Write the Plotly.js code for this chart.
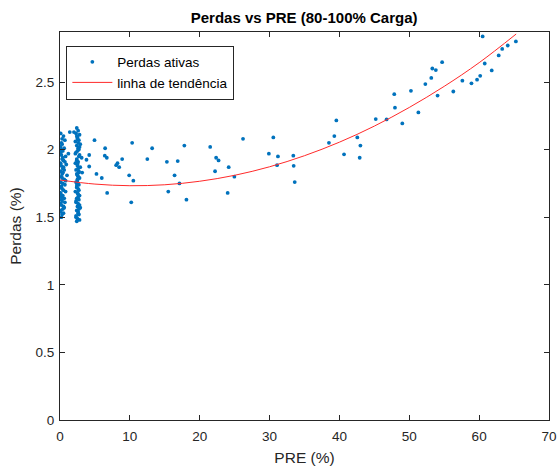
<!DOCTYPE html>
<html>
<head>
<meta charset="utf-8">
<script src="https://cdn.plot.ly/plotly-3.0.1.min.js"></script>
<style>html,body{margin:0;padding:0;background:#fff;}#chart{width:558px;height:466px;}</style>
</head>
<body>
<div id="chart"></div>
<script>
// Dense cluster near PRE = 0 (left column)
const clusterLeftX = [0.1,0.3,0.2,0.5,0.1,0.4,0.7,0.2,0.3,0.6,0.1,0.8,0.2,0.4,0.5,0.1,0.3,0.9,0.2,0.6,0.4,0.1,0.7,0.3,0.2,0.5,1.0,0.1,0.4,0.2,0.6,0.3,0.8,0.1,0.5,0.2,0.4,0.7,0.1,0.3,0.6,0.2,1.2,0.4,0.1,0.5,0.3,0.2,0.8,0.1,0.6,0.4,0.2,0.3,1.4,0.1,0.5,0.7,0.2,0.4];
const clusterLeftY = [2.12,2.08,2.05,2.10,2.02,1.99,2.07,1.96,1.93,2.01,1.90,1.95,1.88,1.86,1.92,1.84,1.82,1.89,1.80,1.78,1.83,1.76,1.74,1.79,1.72,1.70,1.81,1.68,1.66,1.73,1.64,1.62,1.69,1.60,1.58,1.65,1.56,1.61,1.54,1.52,1.57,1.50,1.97,1.75,1.98,1.87,1.71,1.63,1.77,1.55,1.85,1.94,1.59,2.04,2.13,1.67,1.53,1.91,2.00,1.83];
// Dense cluster near PRE = 2.5 (right column)
const clusterRightX = [2.4,2.6,2.3,2.8,2.5,2.7,2.2,2.9,2.4,2.6,2.5,2.3,2.8,2.7,2.4,2.6,2.2,2.5,2.9,2.3,2.7,2.4,2.6,2.8,2.5,2.3,2.7,2.4,2.6,2.2,2.5,2.8,2.4,2.7,2.3,2.6,2.5,2.9,2.4,2.6,2.7,2.3,2.5,2.8,2.4,2.6,2.2,2.5,2.7,2.4,2.6,2.8,2.3,2.5,2.7,2.4,2.6,3.1,2.5,2.7,2.3,2.6,2.4,2.8,2.5,2.0,2.6,2.4,2.7,2.5];
const clusterRightY = [2.16,2.14,2.12,2.11,2.09,2.07,2.06,2.04,2.03,2.01,1.99,1.98,1.96,1.95,1.93,1.91,1.90,1.88,1.87,1.85,1.84,1.82,1.80,1.79,1.77,1.76,1.74,1.72,1.71,1.69,1.68,1.66,1.64,1.63,1.61,1.60,1.58,1.57,1.55,1.53,1.52,1.50,1.49,1.48,2.10,2.05,1.97,1.89,1.83,1.75,1.67,1.59,1.51,2.08,2.00,1.92,1.86,1.94,1.78,1.70,1.62,1.54,1.47,2.02,1.81,2.13,1.65,1.73,1.56,1.90];
// Scattered points
const spreadX = [4.94,10.33,6.46,13.19,4.18,6.41,6.7,8.9,12.5,15.3,8.23,8.04,8.47,3.79,4.18,3.17,5.22,5.98,9.9,10.5,6.75,15.5,10.2,
  26.2,17.8,21.5,16.85,22.35,22.7,24.15,22.2,16.4,17.1,24.96,24.0,18.1,
  39.56,30.54,39.27,38.5,42.56,43.0,29.9,31.2,33.4,40.66,42.9,31.07,33.45,33.6,
  54.7,53.3,53.8,53.15,52.3,50.24,47.85,54.05,56.3,47.95,51.3,45.2,46.75,49.0,
  60.5,65.26,64.1,63.3,62.8,60.8,61.8,60.15,59.7,58.9,57.6];
const spreadY = [2.07,2.05,2.01,2.01,1.96,1.955,1.94,1.93,1.93,1.91,1.90,1.885,1.87,1.925,1.875,1.83,1.82,1.79,1.81,1.77,1.68,1.69,1.61,
  2.08,2.03,2.02,1.915,1.94,1.92,1.87,1.84,1.81,1.75,1.80,1.68,1.63,
  2.216,2.09,2.10,2.05,2.09,2.03,1.97,1.95,1.955,1.965,1.94,1.885,1.88,1.76,
  2.647,2.60,2.588,2.53,2.485,2.435,2.41,2.40,2.43,2.31,2.275,2.226,2.223,2.194,
  2.837,2.80,2.77,2.745,2.697,2.637,2.586,2.546,2.517,2.49,2.51];
// Trend line values
const trendX = [0,5,10,15,20,25,30,35,40,45,50,55,60,65.3];
const trendY = [1.775,1.745,1.733,1.740,1.766,1.810,1.873,1.955,2.055,2.174,2.312,2.468,2.643,2.855];

const xTicks = [0,10,20,30,40,50,60,70];
const yTicks = [0,0.5,1,1.5,2,2.5];

const allX = clusterLeftX.concat(clusterRightX, spreadX);
const allY = clusterLeftY.concat(clusterRightY, spreadY);

const axisColor = '#262626';
const fontFam = 'Liberation Sans, Arial, sans-serif';
const traces = [
  {x: allX, y: allY, type: 'scatter', mode: 'markers', name: 'Perdas ativas',
   marker: {color: '#0072BD', size: 3.8}},
  {x: trendX, y: trendY, type: 'scatter', mode: 'lines', name: 'linha de tendência',
   line: {color: '#FF2A2A', width: 1, shape: 'spline'}}
];
const axisCommon = {
  showgrid: false, zeroline: false, showline: true, mirror: 'ticks',
  linecolor: axisColor, linewidth: 1, ticks: 'inside', ticklen: 5, tickcolor: axisColor,
  tickfont: {family: fontFam, size: 13.5, color: axisColor}
};
const layout = {
  width: 558, height: 466,
  margin: {l: 60, r: 9, t: 32, b: 46},
  paper_bgcolor: '#fff', plot_bgcolor: '#fff',
  showlegend: true,
  title: {text: '<b>Perdas vs PRE (80-100% Carga)</b>', x: 0.545, xref: 'container', xanchor: 'center',
          y: 0.962, yref: 'container', yanchor: 'middle',
          font: {family: fontFam, size: 15, color: '#000'}},
  xaxis: Object.assign({}, axisCommon, {range: [0, 70], tickvals: xTicks, ticklabelstandoff: 4,
    title: {text: 'PRE (%)', standoff: 8, font: {family: fontFam, size: 15.5, color: axisColor}}}),
  yaxis: Object.assign({}, axisCommon, {range: [0, 2.87], tickvals: yTicks, ticklabelstandoff: 2,
    title: {text: 'Perdas (%)', standoff: 10, font: {family: fontFam, size: 15.5, color: axisColor}}}),
  legend: {x: 0.013, y: 0.965, xanchor: 'left', yanchor: 'top', bgcolor: '#fff',
           bordercolor: axisColor, borderwidth: 1, tracegroupgap: 0, itemwidth: 40,
           font: {family: fontFam, size: 13.5, color: '#000'}}
};
Plotly.newPlot('chart', traces, layout, {displayModeBar: false, staticPlot: true});
</script>
</body>
</html>
